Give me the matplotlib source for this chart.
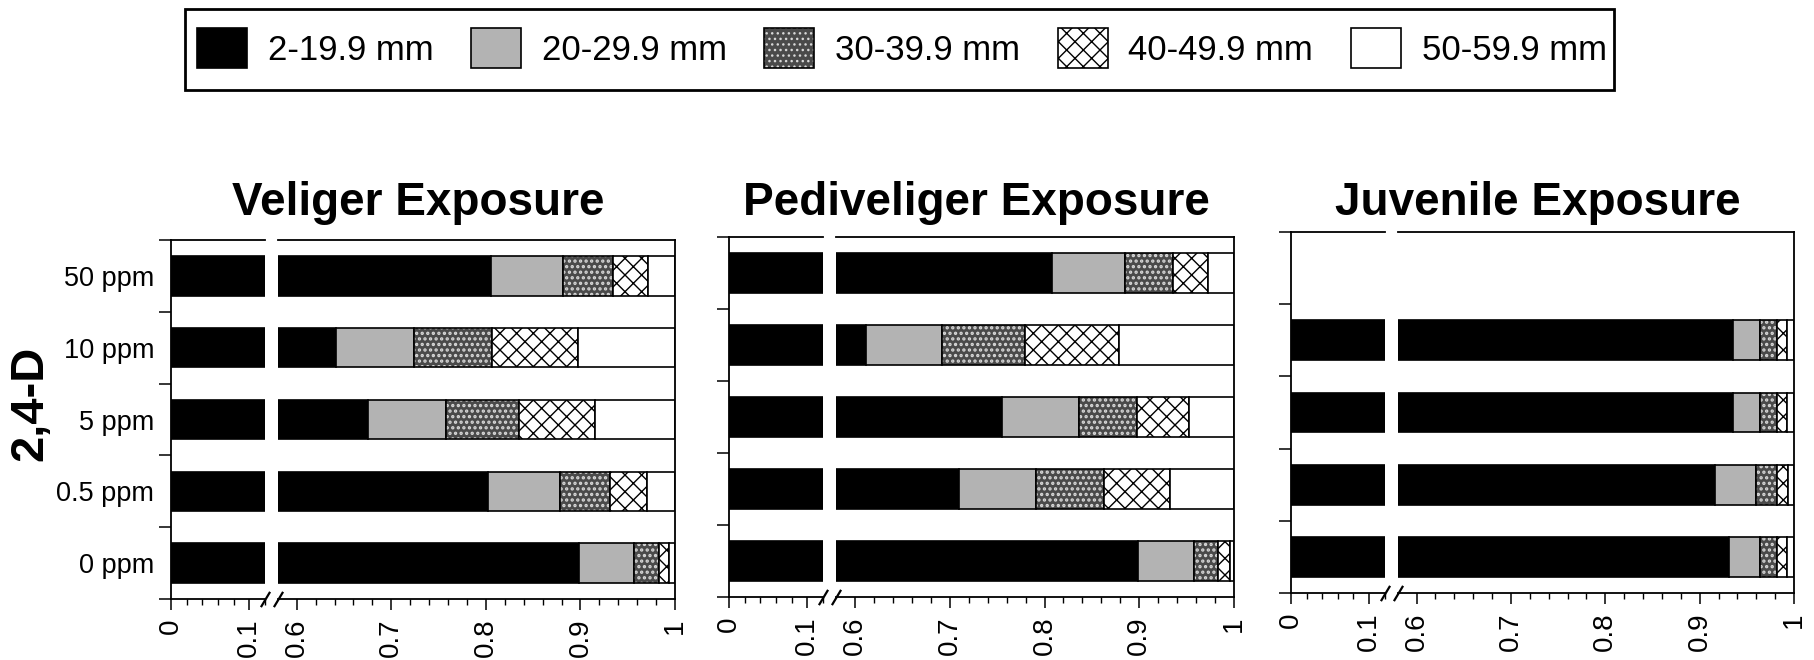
import numpy as np
import matplotlib
matplotlib.use("Agg")
import matplotlib.pyplot as plt
from matplotlib.patches import Patch, Rectangle
from matplotlib.ticker import FixedLocator, FuncFormatter

plt.rcParams['font.family'] = ['Liberation Sans', 'DejaVu Sans']

# doses, bottom row first
doses = ["0 ppm", "0.5 ppm", "5 ppm", "10 ppm", "50 ppm"]
size_classes = ["2-19.9 mm", "20-29.9 mm", "30-39.9 mm", "40-49.9 mm", "50-59.9 mm"]

# proportion of animals in each size class, per dose (0, 0.5, 5, 10, 50 ppm)
veliger_2_19 = [0.898, 0.802, 0.675, 0.642, 0.805]
veliger_20_29 = [0.059, 0.076, 0.083, 0.082, 0.077]
veliger_30_39 = [0.026, 0.053, 0.077, 0.082, 0.052]
veliger_40_49 = [0.011, 0.039, 0.080, 0.091, 0.037]
veliger_50_59 = [0.006, 0.030, 0.085, 0.103, 0.029]

pediveliger_2_19 = [0.899, 0.710, 0.755, 0.612, 0.808]
pediveliger_20_29 = [0.059, 0.081, 0.081, 0.080, 0.077]
pediveliger_30_39 = [0.025, 0.072, 0.062, 0.087, 0.051]
pediveliger_40_49 = [0.013, 0.069, 0.055, 0.100, 0.037]
pediveliger_50_59 = [0.004, 0.068, 0.047, 0.121, 0.027]

# juveniles: no 50 ppm group
juvenile_2_19 = [0.931, 0.916, 0.935, 0.935]
juvenile_20_29 = [0.033, 0.044, 0.029, 0.029]
juvenile_30_39 = [0.018, 0.022, 0.018, 0.018]
juvenile_40_49 = [0.011, 0.012, 0.011, 0.011]
juvenile_50_59 = [0.007, 0.006, 0.007, 0.007]

W, H = 1814, 660
fig = plt.figure(figsize=(W / 100, H / 100), dpi=100)

EDGE_LW = 1.2
BAR_H = 0.55
LEFT_MAX = 0.1205
RIGHT_MIN = 0.58


def draw_segment(ax, y, left, width, k):
    if k == 0:
        ax.barh(y, width, BAR_H, left=left, color='black', edgecolor='black', lw=EDGE_LW)
    elif k == 1:
        ax.barh(y, width, BAR_H, left=left, color='#b3b3b3', edgecolor='black', lw=EDGE_LW)
    elif k == 2:
        with plt.rc_context({'hatch.linewidth': 1.6}):
            ax.barh(y, width, BAR_H, left=left, color='#4a4a4a', edgecolor='#d8d8d8',
                    lw=0, hatch='...')
        ax.barh(y, width, BAR_H, left=left, fill=False, edgecolor='black', lw=EDGE_LW)
    elif k == 3:
        with plt.rc_context({'hatch.linewidth': 1.0}):
            ax.barh(y, width, BAR_H, left=left, color='white', edgecolor='black',
                    lw=EDGE_LW, hatch='xx')
    else:
        ax.barh(y, width, BAR_H, left=left, color='white', edgecolor='black', lw=EDGE_LW)


def draw_panel(x0, y0, w, h, title, classes, show_labels):
    lf, gf = 0.187, 0.025
    b = 1 - (y0 + h) / H
    ax_l = fig.add_axes([x0 / W, b, w * lf / W, h / H])
    ax_r = fig.add_axes([(x0 + w * (lf + gf)) / W, b, w * (1 - lf - gf) / W, h / H])

    n = len(classes[0])
    ys = np.arange(n) + 0.5
    starts = np.zeros(n)
    for k, vals in enumerate(classes):
        vals = np.array(vals)
        for ax in (ax_l, ax_r):
            draw_segment(ax, ys, starts, vals, k)
        starts = starts + vals
    for ax in (ax_l, ax_r):
        ax.set_ylim(0, 5)

    ax_l.set_xlim(0, LEFT_MAX)
    ax_r.set_xlim(RIGHT_MIN, 1.0)

    fmt = FuncFormatter(lambda v, p: f"{v:g}")
    ax_l.xaxis.set_major_locator(FixedLocator([0, 0.1]))
    ax_l.xaxis.set_minor_locator(FixedLocator([0.02, 0.04, 0.06, 0.08, 0.12]))
    ax_r.xaxis.set_major_locator(FixedLocator([0.6, 0.7, 0.8, 0.9, 1.0]))
    ax_r.xaxis.set_minor_locator(FixedLocator(np.round(np.arange(0.62, 1.0, 0.02), 2)))
    for ax in (ax_l, ax_r):
        ax.xaxis.set_major_formatter(fmt)
        ax.tick_params(axis='x', which='major', length=8, width=1.1, pad=6,
                       labelsize=20, labelrotation=90)
        ax.tick_params(axis='x', which='minor', length=4, width=1.0)
        for s in ax.spines.values():
            s.set_linewidth(1.3)

    ax_l.spines['right'].set_visible(False)
    ax_r.spines['left'].set_visible(False)
    ax_r.set_yticks([])

    ax_l.yaxis.set_major_locator(FixedLocator(np.arange(5) + 0.5))
    ax_l.yaxis.set_minor_locator(FixedLocator(np.arange(6)))
    ax_l.tick_params(axis='y', which='major', length=0, pad=12, labelsize=19.5)
    ax_l.tick_params(axis='y', which='minor', length=9, width=1.1)
    if show_labels:
        ax_l.set_yticklabels(doses)
    else:
        ax_l.set_yticklabels([])

    # break marks on the x axis
    slash = [(-0.6, -1), (0.6, 1)]
    ax_l.plot([1], [0], transform=ax_l.transAxes, marker=slash, markersize=11,
              color='black', mew=1.6, clip_on=False, ls='none')
    ax_r.plot([0], [0], transform=ax_r.transAxes, marker=slash, markersize=11,
              color='black', mew=1.6, clip_on=False, ls='none')

    fig.text((x0 + w / 2 - 5) / W, 1 - 215 / H, title, ha='center', va='baseline',
             fontsize=33, fontweight='bold')


draw_panel(171, 240, 504, 359, "Veliger Exposure",
           [veliger_2_19, veliger_20_29, veliger_30_39, veliger_40_49, veliger_50_59], True)
draw_panel(729, 237, 505, 360, "Pediveliger Exposure",
           [pediveliger_2_19, pediveliger_20_29, pediveliger_30_39,
            pediveliger_40_49, pediveliger_50_59], False)
draw_panel(1291, 232, 503, 361, "Juvenile Exposure",
           [juvenile_2_19, juvenile_20_29, juvenile_30_39, juvenile_40_49, juvenile_50_59], False)

fig.text(30 / W, 1 - 403 / H, "2,4-D", rotation=90, ha='center', va='center',
         fontsize=34, fontweight='bold')

# legend: entries without frame, box drawn separately
h_black = Patch(facecolor='black', edgecolor='black', lw=EDGE_LW)
h_gray = Patch(facecolor='#b3b3b3', edgecolor='black', lw=EDGE_LW)
with plt.rc_context({'hatch.linewidth': 1.6}):
    h_dot_fill = Patch(facecolor='#4a4a4a', edgecolor='#d8d8d8', lw=0, hatch='...')
h_dot_edge = Patch(fill=False, edgecolor='black', lw=EDGE_LW)
h_cross = Patch(facecolor='white', edgecolor='black', lw=EDGE_LW, hatch='xx')
h_white = Patch(facecolor='white', edgecolor='black', lw=EDGE_LW)

fig.legend([h_black, h_gray, (h_dot_fill, h_dot_edge), h_cross, h_white], size_classes,
           loc='center left', bbox_to_anchor=(197 / W, 1 - 48 / H), ncol=5,
           fontsize=25, handlelength=1.44, handleheight=1.41, handletextpad=0.6,
           columnspacing=1.08, borderpad=0, borderaxespad=0, frameon=False)
fig.patches.append(Rectangle((185 / W, 1 - 90 / H), (1614 - 185) / W, 81 / H,
                             transform=fig.transFigure, fill=False, lw=2,
                             edgecolor='black'))

fig.savefig("out.png", dpi=100)
